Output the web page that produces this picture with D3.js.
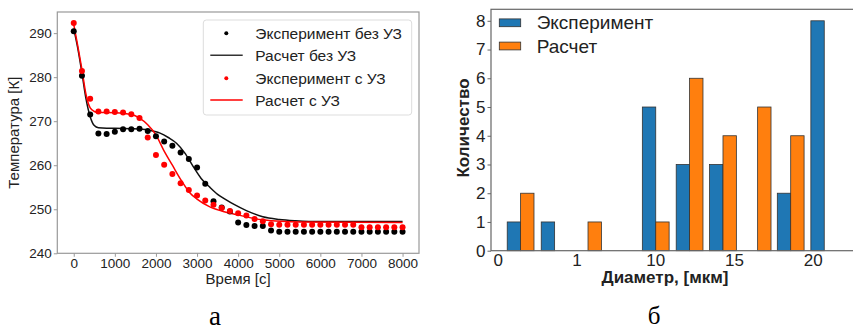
<!DOCTYPE html>
<html>
<head>
<meta charset="utf-8">
<script src="https://cdn.jsdelivr.net/npm/d3@7"></script>
<style>
  body { margin: 0; background: #fff; }
  text { font-family: "Liberation Sans", Arial, sans-serif; }
</style>
</head>
<body>
<div id="chart"></div>
<script>
// ---- left panel data: temperature vs time ----
const expTime = [0,200,400,600,800,1000,1200,1400,1600,1800,2000,2200,2400,2600,2800,3000,3200,3400,3600,3800,
    4000,4200,4400,4600,4800,5000,5200,5400,5600,5800,6000,6200,6400,6600,6800,7000,7200,7400,7600,7800,8000];
const expNoUS = [290.4,280.3,271.5,267.2,267.1,267.6,268.2,268.2,268.3,267.8,266.6,265.4,264.4,262.9,261.4,259.5,255.8,251.8,250.4,249.5,
    247.0,246.4,246.2,246.2,245.2,244.9,244.9,244.9,244.9,244.9,244.9,244.9,244.9,244.9,244.9,244.9,244.9,244.9,244.9,244.9,244.9];
const expUS = [292.3,281.4,275.1,272.2,272.2,272.1,272.0,271.6,270.7,266.3,262.3,260.1,258.0,255.9,254.4,253.1,252.0,251.0,250.3,249.6,
    249.1,248.6,247.8,247.3,246.6,246.5,246.5,246.5,246.5,246.5,246.5,246.5,246.5,246.5,246.5,245.9,245.9,245.9,245.9,245.9,245.9];

const calcNoUSTime = [0,100,200,300,400,500,600,800,1000,1400,1800,2100,2300,2500,2700,2900,3100,3300,3500,3700,3900,4200,4600,5000,5400,6000,7000,8000];
const calcNoUS = [291.0,286.5,280.9,275.0,271.0,269.0,268.5,268.4,268.4,268.3,268.0,267.3,266.3,265.0,262.8,259.8,257.0,255.1,253.4,252.2,251.1,249.7,248.3,247.7,247.4,247.2,247.2,247.2];
const calcUSTime = [0,100,200,300,400,500,600,1000,1400,1600,1800,2000,2200,2400,2600,2800,3000,3300,3600,4000,4600,5500,8000];
const calcUS = [292.0,287.0,281.7,276.0,273.0,272.2,272.0,271.9,271.5,270.7,269.2,266.9,263.2,260.0,256.8,254.0,252.3,250.6,249.6,248.7,247.6,247.1,247.0];

const timeTicks = [0,1000,2000,3000,4000,5000,6000,7000,8000];
const tempTicks = [240,250,260,270,280,290];
const legendLeft = ["Эксперимент без УЗ", "Расчет без УЗ", "Эксперимент с УЗ", "Расчет с УЗ"];

// ---- right panel data: histogram of diameters ----
const binCenters = [1.45, 3.61, 5.73, 7.88, 10.03, 12.18, 14.30, 16.50, 18.60, 20.73];
const countExp  = [1, 1, 0, 0, 5, 3, 3, 0, 2, 8];
const countCalc = [2, 0, 1, 0, 1, 6, 4, 5, 4, 0];
const diamTicks = [0, 5, 10, 15, 20];
const diamTickLabels = ["0", "1", "10", "15", "20"];
const countTicks = [0,1,2,3,4,5,6,7,8];
const legendRight = ["Эксперимент", "Расчет"];

const W = 853, H = 331;
const svg = d3.select("#chart").append("svg")
    .attr("width", W).attr("height", H)
    .style("display", "block");
svg.append("rect").attr("width", W).attr("height", H).attr("fill", "#fff");

// ================= left panel =================
const L = {left: 57.3, right: 419, top: 12, bottom: 253.3};
const xT = d3.scaleLinear().domain([-400, 8400]).range([L.left, L.right]);
const yT = d3.scaleLinear().domain([240, 294.8]).range([L.bottom, L.top]);
const left = svg.append("g");

// axes
const axL = left.append("g").attr("transform", `translate(${L.left},0)`)
    .call(d3.axisLeft(yT).tickValues(tempTicks).tickFormat(d3.format("d")).tickSize(3.5).tickPadding(2));
const axB = left.append("g").attr("transform", `translate(0,${L.bottom})`)
    .call(d3.axisBottom(xT).tickValues(timeTicks).tickFormat(d3.format("d")).tickSize(3.5).tickPadding(2));
[axL, axB].forEach(a => {
    a.select(".domain").remove();
    a.selectAll(".tick line").attr("stroke", "#999");
    a.selectAll(".tick text").attr("fill", "#222").style("font-size", "13.5px")
        .style("font-family", "Liberation Sans, Arial, sans-serif");
});
// frame
left.append("rect").attr("x", L.left).attr("y", L.top)
    .attr("width", L.right - L.left).attr("height", L.bottom - L.top)
    .attr("fill", "none").attr("stroke", "#999").attr("stroke-width", 1.2);

// calc lines
const line = d3.line().x(d => xT(d[0])).y(d => yT(d[1])).curve(d3.curveMonotoneX);
left.append("path").datum(d3.zip(calcNoUSTime, calcNoUS))
    .attr("d", line).attr("fill", "none").attr("stroke", "#111").attr("stroke-width", 1.5);
left.append("path").datum(d3.zip(calcUSTime, calcUS))
    .attr("d", line).attr("fill", "none").attr("stroke", "#ff0000").attr("stroke-width", 1.5);

// experiment points
left.append("g").selectAll("circle").data(d3.zip(expTime, expNoUS)).enter()
    .append("circle").attr("cx", d => xT(d[0])).attr("cy", d => yT(d[1])).attr("r", 3).attr("fill", "#000");
left.append("g").selectAll("circle").data(d3.zip(expTime, expUS)).enter()
    .append("circle").attr("cx", d => xT(d[0])).attr("cy", d => yT(d[1])).attr("r", 3).attr("fill", "#ff0000");

// labels
left.append("text").attr("x", (L.left + L.right) / 2).attr("y", 284)
    .attr("text-anchor", "middle").style("font-size", "15px").attr("fill", "#222").text("Время [с]");
left.append("text").attr("transform", `translate(19,${(L.top + L.bottom) / 2}) rotate(-90)`)
    .attr("text-anchor", "middle").style("font-size", "15px").attr("fill", "#222").text("Температура [К]");

// legend
const lg = left.append("g").attr("transform", "translate(203.3,20)");
lg.append("rect").attr("width", 208.4).attr("height", 95).attr("rx", 3)
    .attr("fill", "#fff").attr("fill-opacity", 0.8).attr("stroke", "#ddd");
const rowY = [13.3, 35.3, 58.3, 80];
legendLeft.forEach((name, i) => {
    const g = lg.append("g").attr("transform", `translate(0,${rowY[i]})`);
    const col = i < 2 ? "#000" : "#ff0000";
    if (i % 2 === 0) {
        g.append("circle").attr("cx", 23).attr("cy", 0).attr("r", 2).attr("fill", col);
    } else {
        g.append("line").attr("x1", 7).attr("x2", 39.4).attr("y1", 0).attr("y2", 0)
            .attr("stroke", i < 2 ? "#333" : "#ff0000").attr("stroke-width", 1.5);
    }
    g.append("text").attr("x", 52).attr("y", 5.5).style("font-size", "15.5px")
        .attr("fill", "#222").text(name);
});

// ================= right panel =================
const R = {left: 491, right: 860, top: 9.3, bottom: 250.7};
const xD = d3.scaleLinear().domain([-0.43, 23]).range([R.left, R.right]);
const yC = d3.scaleLinear().domain([0, 8.4]).range([R.bottom, R.top]);
const right = svg.append("g");
const bw = 0.85;

const ayR = right.append("g").attr("transform", `translate(${R.left},0)`)
    .call(d3.axisLeft(yC).tickValues(countTicks).tickSize(3.5).tickPadding(2));
const axR = right.append("g").attr("transform", `translate(0,${R.bottom})`)
    .call(d3.axisBottom(xD).tickValues(diamTicks).tickFormat((d, i) => diamTickLabels[i]).tickSize(0).tickPadding(3));
[ayR, axR].forEach(a => {
    a.select(".domain").remove();
    a.selectAll(".tick line").attr("stroke", "#666");
    a.selectAll(".tick text").attr("fill", "#222").style("font-size", "17px")
        .style("font-family", "Liberation Sans, Arial, sans-serif");
});

// bars
const bars = right.append("g");
binCenters.forEach((c, i) => {
    if (countExp[i] > 0) {
        bars.append("rect").attr("x", xD(c - bw)).attr("width", xD(c) - xD(c - bw))
            .attr("y", yC(countExp[i])).attr("height", yC(0) - yC(countExp[i]))
            .attr("fill", "#1f77b4").attr("stroke", "#333").attr("stroke-width", 0.8);
    }
    if (countCalc[i] > 0) {
        bars.append("rect").attr("x", xD(c)).attr("width", xD(c + bw) - xD(c))
            .attr("y", yC(countCalc[i])).attr("height", yC(0) - yC(countCalc[i]))
            .attr("fill", "#ff7f0e").attr("stroke", "#333").attr("stroke-width", 0.8);
    }
});

// frame
right.append("rect").attr("x", R.left).attr("y", R.top)
    .attr("width", R.right - R.left).attr("height", R.bottom - R.top)
    .attr("fill", "none").attr("stroke", "#666").attr("stroke-width", 1.2);

// legend
const rg = right.append("g").attr("transform", "translate(499.3,0)");
const rowYR = [22.8, 46];
const colsR = ["#1f77b4", "#ff7f0e"];
legendRight.forEach((name, i) => {
    rg.append("rect").attr("x", 0).attr("y", rowYR[i] - 3.9).attr("width", 21.4).attr("height", 7.8)
        .attr("fill", colsR[i]).attr("stroke", "#333").attr("stroke-width", 0.8);
    rg.append("text").attr("x", 37.4).attr("y", rowYR[i] + 6.5).style("font-size", "19px")
        .attr("fill", "#222").text(name);
});

// axis labels
right.append("text").attr("x", 665).attr("y", 283).attr("text-anchor", "middle")
    .style("font-size", "17px").style("font-weight", "bold").attr("fill", "#222").text("Диаметр, [мкм]");
right.append("text").attr("transform", `translate(469,128) rotate(-90)`)
    .attr("text-anchor", "middle").style("font-size", "17px").style("font-weight", "bold")
    .attr("fill", "#222").text("Количество");

// panel letters
svg.append("text").attr("x", 215).attr("y", 325).attr("text-anchor", "middle")
    .style("font-family", "Liberation Serif, Times New Roman, serif").style("font-size", "27px").text("а");
svg.append("text").attr("x", 654).attr("y", 324).attr("text-anchor", "middle")
    .style("font-family", "Liberation Serif, Times New Roman, serif").style("font-size", "25px").text("б");
</script>
</body>
</html>
